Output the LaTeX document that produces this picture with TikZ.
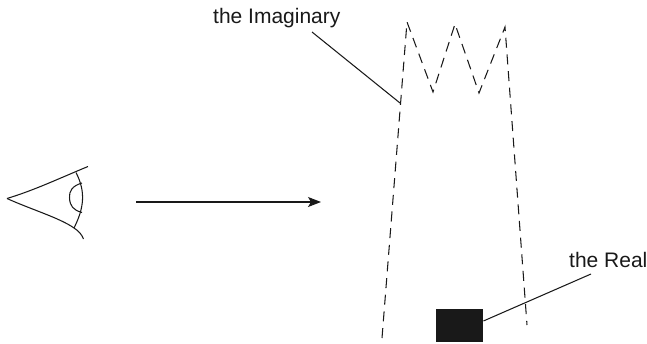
\documentclass[tikz,border=0pt]{standalone}
\usepackage{fontspec}
\setmainfont{Liberation Sans}
\usetikzlibrary{arrows.meta}
\tikzset{
  ink/.style={draw=black!90, line width=1.05pt},
  dashline/.style={ink, dash pattern=on 10pt off 6.7pt},
  lbl/.style={font=\fontsize{21}{24}\selectfont, text=black!90, inner sep=0pt, anchor=base west},
}
\begin{document}
\begin{tikzpicture}[x=1pt,y=-1pt]
\useasboundingbox (0,0) rectangle (647,343);
\node[lbl] (imag) at (213,23.5) {the Imaginary};
\node[lbl] (real) at (569,267.5) {the Real};
\node[fill=black!90, minimum width=47pt, minimum height=33pt, inner sep=0pt, anchor=north west] (block) at (436,309) {};
\coordinate (imagfoot) at (312,32);
\coordinate (imagtip) at (400,103);
\coordinate (realfoot) at (591,274);
\coordinate (a) at (382,338);
\coordinate (b) at (407,22);
\coordinate (c) at (433,92);
\coordinate (d) at (455,24);
\coordinate (e) at (479,93);
\coordinate (f) at (505,27);
\coordinate (g) at (527,325);
\draw[dashline] (a) -- (b) -- (c) -- (d) -- (e) -- (f) -- (g);
\draw[ink] (imagfoot) -- (imagtip);
\draw[ink] (realfoot) -- (block.east |- 0,321);
% eye
\coordinate (tip) at (7,198.5);
\coordinate (uplid) at (88,166.5);
\coordinate (lowlid) at (83.5,239);
\coordinate (ballt) at (76,172.5);
\coordinate (ballb) at (74,228);
\draw[ink] (tip) .. controls (35,190) and (60,178) .. (uplid);
\draw[ink] (tip) .. controls (30,209) and (60,218) .. (ballb) .. controls (79,231) and (82,235) .. (lowlid);
\draw[ink] (ballt) .. controls (86,192) and (84,208) .. (ballb);
\draw[ink] (82,183) .. controls (72,186) and (69,191) .. (69.5,198) .. controls (70,206) and (73,210) .. (82,212.5);
\coordinate (arrowstart) at (136,202);
\coordinate (arrowend) at (321,202);
\draw[ink, -{Stealth[length=13pt,width=10pt,inset=3pt]}] (arrowstart) -- (arrowend);
\end{tikzpicture}
\end{document}
